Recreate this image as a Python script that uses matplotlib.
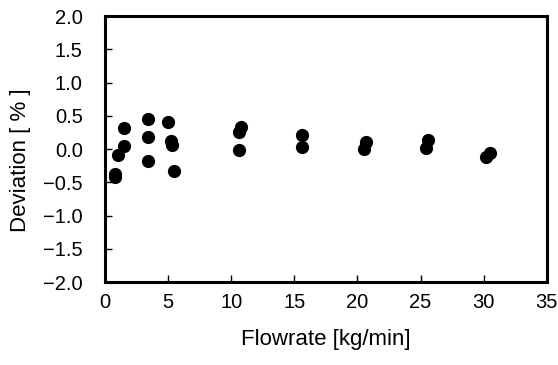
import matplotlib
matplotlib.use("Agg")
import matplotlib.pyplot as plt

# Deviation data
flowrate = [0.8, 0.8, 1.0, 1.5, 1.5, 3.4, 3.4, 3.4, 5.0, 5.2, 5.3, 5.5,
            10.6, 10.8, 10.6, 15.6, 15.6, 20.5, 20.7, 25.4, 25.6, 30.2, 30.5]
deviation = [-0.38, -0.42, -0.09, 0.04, 0.31, 0.45, 0.18, -0.18, 0.40, 0.12, 0.06, -0.33,
             0.25, 0.33, -0.02, 0.21, 0.03, 0.0, 0.11, 0.01, 0.14, -0.12, -0.06]

x_ticks = [0, 5, 10, 15, 20, 25, 30, 35]
y_ticks = [-2.0, -1.5, -1.0, -0.5, 0.0, 0.5, 1.0, 1.5, 2.0]

plt.rcParams['font.family'] = ['Liberation Sans', 'DejaVu Sans']

fig = plt.figure(figsize=(5.58, 3.65), dpi=100)
ax = fig.add_axes([0.188, 0.227, 0.792, 0.729])

ax.plot(flowrate, deviation, 'o', color='black', markersize=8.5, linestyle='none')

ax.set_xlim(0, 35)
ax.set_ylim(-2.0, 2.0)
ax.set_xticks(x_ticks)
ax.set_xticklabels([str(t) for t in x_ticks])
ax.set_yticks(y_ticks)
ax.set_yticklabels([f"{t:.1f}".replace('-', '\u2212') for t in y_ticks])

for s in ax.spines.values():
    s.set_linewidth(2.2)

ax.tick_params(axis='both', direction='in', length=5, width=1, labelsize=14.5)
ax.tick_params(axis='y', pad=16)
ax.tick_params(axis='x', pad=8)

ax.set_xlabel("Flowrate [kg/min]", fontsize=16, labelpad=12)
ax.set_ylabel("Deviation [ % ]", fontsize=16)
ax.yaxis.set_label_coords(-0.168, 0.46)

fig.savefig("out.png", dpi=100)
